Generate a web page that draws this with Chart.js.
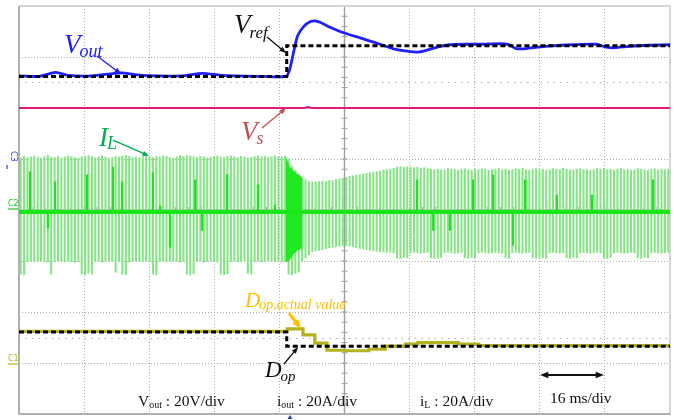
<!DOCTYPE html>
<html>
<head>
<meta charset="utf-8">
<script src="https://cdn.jsdelivr.net/npm/chart.js@4/dist/chart.umd.min.js"></script>
<style>
  html, body { margin: 0; padding: 0; background: #ffffff; }
  #wrap { width: 674px; height: 420px; }
</style>
</head>
<body>
<div id="wrap"><canvas id="scope" width="674" height="420"></canvas></div>
<script>
// Scope capture: 16 ms/div over 10 divisions, vertical axis in screen divisions (8).

// Output voltage (blue trace): time in ms, level in divisions
const voutT = [0, 5, 9, 12, 18, 25, 30, 40, 45, 50, 60, 65.6, 66.5, 67.5, 68.5, 70, 71.5, 72.7, 74, 76,
               78, 80, 84, 88, 92, 95, 97, 98.5, 100.5, 103, 106, 110, 114, 118, 120.5, 122, 124, 127, 131, 136,
               142, 144, 146, 150, 155, 160];
const voutV = [6.63, 6.62, 6.70, 6.64, 6.63, 6.69, 6.64, 6.63, 6.68, 6.64, 6.62, 6.62, 6.75, 7.10, 7.42, 7.60, 7.69, 7.71, 7.68, 7.60,
               7.53, 7.47, 7.37, 7.27, 7.16, 7.12, 7.10, 7.10, 7.14, 7.20, 7.24, 7.25, 7.25, 7.26, 7.24, 7.17, 7.16, 7.19, 7.22, 7.24,
               7.25, 7.20, 7.18, 7.21, 7.23, 7.24];

// Voltage reference (black dashed)
const vrefT = [0, 65.8, 65.8, 160];
const vrefV = [6.62, 6.62, 7.22, 7.22];

// Source voltage (magenta)
const vsT = [0, 70, 71, 72, 160];
const vsV = [6.0, 6.0, 6.02, 6.0, 6.0];

// Inductor current: centre trace and switching pulses (upper / lower ends per pulse)
const ilCenterT = [0, 160];
const ilCenterV = [3.96, 3.96];

const pulseHigh = [
  5.02, 5.05, 5.03, 5.04, 5.06, 5.03, 5.02, 5.05, 5.07, 5.04,
  5.03, 5.05, 5.02, 5.04, 5.06, 5.05, 5.03, 5.02, 5.04, 5.05,
  5.07, 5.05, 5.03, 5.04, 5.06, 5.04, 5.02, 5.03, 5.05, 5.04,
  5.06, 5.07, 5.05, 5.03, 5.04, 5.02, 5.05, 5.06, 5.04, 5.03,
  5.05, 5.04, 5.06, 5.05, 5.03, 5.02, 5.04, 5.06, 5.05, 5.07,
  5.06, 5.04, 5.03, 5.05, 5.04, 5.02, 5.03, 5.05, 5.06, 5.04,
  5.03, 5.05, 5.06, 5.04, 5.03, 5.05, 5.04, 5.02, 5.03, 5.05,
  5.06, 5.04, 5.05, 5.03, 5.04, 5.06, 5.05, 5.04, 5.06,
  5.00, 4.85, 4.78, 4.70,
  4.63, 4.59, 4.56, 4.55, 4.55, 4.56, 4.57, 4.56, 4.58, 4.58,
  4.60, 4.61, 4.62, 4.64, 4.66, 4.67, 4.68, 4.69, 4.71, 4.72,
  4.73, 4.74, 4.75, 4.76, 4.78, 4.79, 4.80, 4.82, 4.84, 4.85,
  4.84, 4.85, 4.84, 4.83, 4.84, 4.82, 4.83, 4.81, 4.80, 4.79,
  4.80, 4.78, 4.79, 4.81, 4.80, 4.79, 4.78, 4.80, 4.81, 4.79,
  4.78, 4.80, 4.79, 4.81, 4.80, 4.78, 4.79, 4.80, 4.81, 4.79,
  4.80, 4.78, 4.79, 4.81, 4.80, 4.82, 4.79, 4.78, 4.80, 4.81,
  4.79, 4.80, 4.78, 4.79, 4.81, 4.80, 4.79, 4.82, 4.80, 4.79,
  4.78, 4.80, 4.81, 4.79, 4.80, 4.78, 4.79, 4.81, 4.80, 4.82,
  4.79, 4.80, 4.78, 4.80, 4.81, 4.79, 4.80, 4.78, 4.79, 4.81,
  4.80, 4.79, 4.78, 4.80, 4.81, 4.79, 4.80, 4.79, 4.80
];
const pulseLow = [
  2.74, 2.73, 2.99, 3.00, 2.98, 2.99, 3.00, 2.99, 2.98, 2.74,
  2.99, 3.00, 2.99, 2.98, 3.00, 2.99, 2.98, 2.99, 2.74, 2.73,
  2.76, 2.74, 2.99, 3.00, 2.98, 2.99, 3.00, 2.99, 2.78, 2.99,
  2.74, 2.73, 2.98, 2.99, 3.00, 2.99, 2.98, 3.00, 2.99, 2.74,
  2.73, 2.99, 3.00, 2.98, 2.99, 3.00, 2.99, 2.98, 2.99, 2.74,
  2.73, 2.75, 2.99, 3.00, 2.98, 2.99, 3.00, 2.99, 2.98, 2.74,
  2.73, 2.75, 2.99, 3.00, 2.98, 2.99, 3.00, 2.76, 2.74, 2.99,
  3.00, 2.98, 2.99, 3.00, 2.99, 2.98, 3.00, 2.99, 2.98,
  2.74, 2.73, 2.76, 2.78,
  3.00, 3.06, 3.12, 3.18, 3.20, 3.21, 3.22, 3.24, 3.26, 3.27,
  3.28, 3.29, 3.30, 3.30, 3.29, 3.28, 3.26, 3.25, 3.24, 3.22,
  3.21, 3.20, 3.19, 3.18, 3.18, 3.17, 3.17, 3.16, 3.06, 3.05,
  3.07, 3.06, 3.16, 3.17, 3.16, 3.15, 3.16, 3.17, 3.06, 3.05,
  3.06, 3.07, 3.16, 3.17, 3.16, 3.15, 3.16, 3.17,
  3.06, 3.05, 3.07, 3.06, 3.16, 3.17, 3.16, 3.15, 3.16, 3.17,
  3.16, 3.15, 3.06, 3.05, 3.16, 3.17, 3.16, 3.15, 3.16, 3.17,
  3.06, 3.05, 3.07, 3.06, 3.05, 3.16, 3.17, 3.16, 3.15, 3.16,
  3.06, 3.05, 3.07, 3.06, 3.16, 3.17, 3.16, 3.15, 3.16, 3.17,
  3.16, 3.06, 3.05, 3.07, 3.16, 3.17, 3.16, 3.15, 3.16, 3.17,
  3.16, 3.06, 3.05, 3.07, 3.06, 3.16, 3.17, 3.16, 3.15, 3.16,
  3.17
];
const pulseIdx = pulseHigh.map((_, i) => i);

// Short bright spikes off the current centre line
const spikeT = [2.7, 7.1, 8.85, 16.7, 23.1, 25.3, 32.9, 34.7, 37.1, 43.3, 45.0, 51.1, 58.7, 62.9,
                97.8, 101.8, 105.9, 111.6, 116.5, 121.4, 124.4, 132.2, 140.8, 155.8, 157.5];
const spikeEnd = [4.75, 3.65, 4.55, 4.69, 4.84, 4.55, 4.73, 4.08, 3.27, 4.59, 3.60, 4.69, 4.49, 4.10,
                  4.59, 3.60, 3.60, 4.59, 4.69, 3.31, 4.59, 4.29, 4.29, 4.59, 4.00];

// Dense burst right after the reference step
const burstT = [65.6, 66.4, 67.3, 68.3, 69.6];
const burstHi = [5.02, 4.85, 4.78, 4.70, 4.63];
const burstLo = [2.98, 3.00, 3.12, 3.20, 3.25];

// Duty ratio: command (black dashed) and applied value (olive, stepped)
const dopT = [0, 65.8, 65.8, 160];
const dopV = [1.61, 1.61, 1.33, 1.33];
const dopActT = [0, 65.9, 69.8, 72.7, 75.7, 80, 86, 90, 95, 98, 108, 113, 160];
const dopActV = [1.62, 1.67, 1.55, 1.39, 1.25, 1.24, 1.27, 1.33, 1.37, 1.40, 1.37, 1.34, 1.34];

// Cursor rows (sparse dots) and channel ground markers
const cursorLevels = [6.51, 1.49];
const channelMarks = [
  { name: 'C3', level: 5.02, color: '#2a3fd8', rotate: true },
  { name: 'C2', level: 4.02, color: '#22c422', rotate: false },
  { name: 'C1', level: 0.98, color: '#b4b21e', rotate: false }
];

const pts = (ts, vs) => ts.map((t, i) => ({ x: t, y: vs[i] }));

const serif = '"Liberation Serif", "Times New Roman", serif';

// labels: main letter + subscript, anchored in (ms, div)
const traceLabels = [
  { t: 11.06, v: 7.078, main: 'V', sub: 'out', color: '#1a1aff', mainPx: 27, subPx: 18, subDy: 4 },
  { t: 52.84, v: 7.47, main: 'V', sub: 'ref', color: '#111111', mainPx: 27, subPx: 17, subDy: 5 },
  { t: 54.56, v: 5.373, main: 'V', sub: 's', color: '#c0504d', mainPx: 27, subPx: 18, subDy: 4 },
  { t: 19.66, v: 5.255, main: 'I', sub: 'L', color: '#00b050', mainPx: 27, subPx: 18, subDy: 3 },
  { t: 55.55, v: 2.098, main: 'D', sub: 'op,actual value', color: '#ffc000', mainPx: 21, subPx: 14, subDy: 2 },
  { t: 60.46, v: 0.725, main: 'D', sub: 'op', color: '#111111', mainPx: 23, subPx: 15, subDy: 4 }
];
const pointerArrows = [
  { t1: 19.17, v1: 7.02, t2: 25.07, v2: 6.67, color: '#1a1aff', w: 1.3, head: 7 },
  { t1: 60.95, v1: 7.39, t2: 65.62, v2: 7.08, color: '#111111', w: 1.3, head: 7 },
  { t1: 59.72, v1: 5.61, t2: 65.62, v2: 6.00, color: '#c0504d', w: 1.3, head: 7 },
  { t1: 23.10, v1: 5.37, t2: 31.95, v2: 5.06, color: '#00b050', w: 1.3, head: 7 },
  { t1: 66.36, v1: 1.98, t2: 69.31, v2: 1.67, color: '#ffc000', w: 3, head: 10 },
  { t1: 65.13, v1: 0.98, t2: 68.57, v2: 1.31, color: '#111111', w: 1.3, head: 7 }
];
const scaleNotes = [
  { t: 29.25, v: 0.157, main: 'V', sub: 'out', rest: ' : 20V/div' },
  { t: 63.41, v: 0.157, main: 'i', sub: 'out', rest: ' : 20A/div' },
  { t: 98.56, v: 0.157, main: 'i', sub: 'L', rest: ' : 20A/div' }
];
const timeNote = { t: 130.51, v: 0.216, text: '16 ms/div', from: 128.05, to: 143.78, level: 0.765 };
const triggerT = 66.6;

function arrowHead(ctx, x1, y1, x2, y2, len, color) {
  const a = Math.atan2(y2 - y1, x2 - x1);
  ctx.fillStyle = color;
  ctx.beginPath();
  ctx.moveTo(x2, y2);
  ctx.lineTo(x2 - len * Math.cos(a - 0.38), y2 - len * Math.sin(a - 0.38));
  ctx.lineTo(x2 - len * Math.cos(a + 0.38), y2 - len * Math.sin(a + 0.38));
  ctx.closePath();
  ctx.fill();
}
function arrow(ctx, x1, y1, x2, y2, color, w, len) {
  const a = Math.atan2(y2 - y1, x2 - x1);
  ctx.strokeStyle = color; ctx.lineWidth = w; ctx.setLineDash([]);
  ctx.beginPath();
  ctx.moveTo(x1, y1);
  ctx.lineTo(x2 - len * 0.7 * Math.cos(a), y2 - len * 0.7 * Math.sin(a));
  ctx.stroke();
  arrowHead(ctx, x1, y1, x2, y2, len, color);
}

const scopeDecor = {
  id: 'scopeDecor',
  beforeDatasetsDraw(chart) {
    const { ctx, chartArea: a, scales } = chart;
    const x = scales.x, y = scales.y;
    ctx.save();
    const seg = (x1, y1, x2, y2) => { ctx.beginPath(); ctx.moveTo(x1, y1); ctx.lineTo(x2, y2); ctx.stroke(); };
    // cursor rows
    ctx.strokeStyle = '#9a9a9a'; ctx.lineWidth = 1.2; ctx.setLineDash([1.2, 5.4]);
    cursorLevels.forEach(v => { const py = Math.round(y.getPixelForValue(v)) + 0.5; seg(a.left, py, a.right, py); });
    // centre cross with minor ticks
    ctx.setLineDash([]);
    ctx.strokeStyle = '#9e9e9e'; ctx.lineWidth = 1.4;
    const cx = x.getPixelForValue(80), cy = y.getPixelForValue(4);
    seg(cx, a.top, cx, a.bottom);
    seg(a.left, cy, a.right, cy);
    ctx.lineWidth = 1;
    for (let v = 0; v <= 8.001; v += 0.2) { const py = y.getPixelForValue(v); seg(cx - 3, py, cx + 3, py); }
    for (let t = 0; t <= 160.001; t += 3.2) { const px = x.getPixelForValue(t); seg(px, cy - 3, px, cy + 3); }
    // frame
    ctx.lineWidth = 2;
    ctx.strokeStyle = '#d6d6d6';
    seg(a.left, a.top, a.right, a.top);
    seg(a.right, a.top, a.right, a.bottom);
    ctx.strokeStyle = '#b0b0b0';
    seg(a.left, a.top, a.left, a.bottom + 1);
    seg(a.left, a.bottom, a.right + 1, a.bottom);
    ctx.restore();
  },
  afterDatasetsDraw(chart) {
    const { ctx, chartArea: a, scales } = chart;
    const x = scales.x, y = scales.y;
    ctx.save();
    ctx.textBaseline = 'alphabetic';
    ctx.textAlign = 'left';
    // channel markers on the left edge
    channelMarks.forEach(m => {
      const py = y.getPixelForValue(m.level);
      ctx.fillStyle = m.color; ctx.strokeStyle = m.color; ctx.lineWidth = 1.2;
      ctx.font = '8px "DejaVu Sans", sans-serif';
      if (m.rotate) {
        ctx.save(); ctx.translate(a.left - 8, py - 2); ctx.rotate(Math.PI / 2);
        ctx.fillText(m.name, -5, 0); ctx.restore();
        ctx.beginPath(); ctx.moveTo(a.left - 12, py + 7); ctx.lineTo(a.left - 12, py + 11); ctx.stroke();
      } else {
        ctx.fillText(m.name, a.left - 11, py - 3);
        ctx.beginPath(); ctx.moveTo(a.left - 11, py); ctx.lineTo(a.left - 1, py); ctx.stroke();
      }
    });
    // trace labels
    traceLabels.forEach(l => {
      const px = x.getPixelForValue(l.t), py = y.getPixelForValue(l.v);
      ctx.fillStyle = l.color;
      ctx.font = `italic ${l.mainPx}px ${serif}`;
      ctx.fillText(l.main, px, py);
      const w = ctx.measureText(l.main).width;
      ctx.font = `italic ${l.subPx}px ${serif}`;
      ctx.fillText(l.sub, px + w - 1, py + l.subDy);
    });
    pointerArrows.forEach(p => {
      arrow(ctx, x.getPixelForValue(p.t1), y.getPixelForValue(p.v1),
                 x.getPixelForValue(p.t2), y.getPixelForValue(p.v2), p.color, p.w, p.head);
    });
    // scale notes along the bottom
    ctx.fillStyle = '#111111';
    scaleNotes.forEach(n => {
      const px = x.getPixelForValue(n.t), py = y.getPixelForValue(n.v);
      ctx.font = `15.5px ${serif}`;
      ctx.fillText(n.main, px, py);
      let cur = px + ctx.measureText(n.main).width;
      ctx.font = `10px ${serif}`;
      ctx.fillText(n.sub, cur, py + 2);
      cur += ctx.measureText(n.sub).width;
      ctx.font = `15.5px ${serif}`;
      ctx.fillText(n.rest, cur, py);
    });
    ctx.font = `15.5px ${serif}`;
    ctx.fillText(timeNote.text, x.getPixelForValue(timeNote.t), y.getPixelForValue(timeNote.v));
    const ay = y.getPixelForValue(timeNote.level);
    const ax1 = x.getPixelForValue(timeNote.from), ax2 = x.getPixelForValue(timeNote.to);
    ctx.strokeStyle = '#111111'; ctx.lineWidth = 2;
    ctx.beginPath(); ctx.moveTo(ax1 + 5, ay); ctx.lineTo(ax2 - 5, ay); ctx.stroke();
    arrowHead(ctx, ax2, ay, ax1, ay, 9, '#111111');
    arrowHead(ctx, ax1, ay, ax2, ay, 9, '#111111');
    // trigger position marker
    const tx = x.getPixelForValue(triggerT);
    ctx.fillStyle = '#2a3fd8';
    ctx.beginPath(); ctx.moveTo(tx, a.bottom + 1); ctx.lineTo(tx - 2.5, a.bottom + 5); ctx.lineTo(tx + 2.5, a.bottom + 5); ctx.closePath(); ctx.fill();
    ctx.restore();
  }
};

const traceLine = (label, data, color, width, order, extra) => Object.assign({
  type: 'line', label, data, borderColor: color, borderWidth: width, pointRadius: 0,
  fill: false, tension: 0, order, xAxisID: 'x', yAxisID: 'y'
}, extra || {});

const datasets = [
  traceLine('Vref', pts(vrefT, vrefV), '#000000', 3, 0, { borderDash: [5, 3] }),
  traceLine('Vout', pts(voutT, voutV), '#1f1fff', 2.8, 1, { tension: 0.25 }),
  traceLine('Vs', pts(vsT, vsV), '#e3197a', 2, 2),
  traceLine('iL centre', pts(ilCenterT, ilCenterV), '#19e619', 4, 3),
  {
    type: 'bar', label: 'iL spikes', data: spikeT.map((t, i) => ({ x: t, y: [3.96, spikeEnd[i]] })),
    backgroundColor: '#1ee31e', borderWidth: 0, barThickness: 1.6, grouped: false, order: 4,
    xAxisID: 'x', yAxisID: 'y'
  },
  traceLine('burst low', pts(burstT, burstLo), 'rgba(0,0,0,0)', 0, 5),
  traceLine('burst high', pts(burstT, burstHi), '#22e822', 1, 6, { fill: 5, backgroundColor: '#22e822' }),
  {
    type: 'bar', label: 'iL pulses', data: pulseIdx.map(i => [pulseLow[i], pulseHigh[i]]),
    backgroundColor: '#86e486', borderWidth: 0, barThickness: 1.4, grouped: false, order: 8,
    xAxisID: 'xp', yAxisID: 'y'
  },
  traceLine('Dop', pts(dopT, dopV), '#000000', 3, 0, { borderDash: [5, 3] }),
  traceLine('Dop actual', pts(dopActT, dopActV), '#b4b21e', 3.2, 1, { stepped: true })
];

new Chart(document.getElementById('scope'), {
  type: 'line',
  data: { datasets },
  options: {
    responsive: false,
    animation: false,
    events: [],
    layout: { padding: { left: 19, right: 4, top: 6, bottom: 6 } },
    plugins: { legend: { display: false }, tooltip: { enabled: false } },
    scales: {
      x: {
        type: 'linear', min: 0, max: 160, offset: false,
        ticks: { display: false, stepSize: 16 },
        grid: { color: '#adadad', lineWidth: 1, drawTicks: false, offset: false },
        border: { display: false, dash: [1, 2] }
      },
      xp: {
        type: 'category', labels: pulseIdx, display: false, offset: true,
        grid: { display: false }
      },
      y: {
        type: 'linear', min: 0, max: 8,
        ticks: { display: false, stepSize: 1 },
        grid: { color: '#adadad', lineWidth: 1, drawTicks: false },
        border: { display: false, dash: [1, 2] }
      }
    }
  },
  plugins: [scopeDecor]
});
</script>
</body>
</html>
